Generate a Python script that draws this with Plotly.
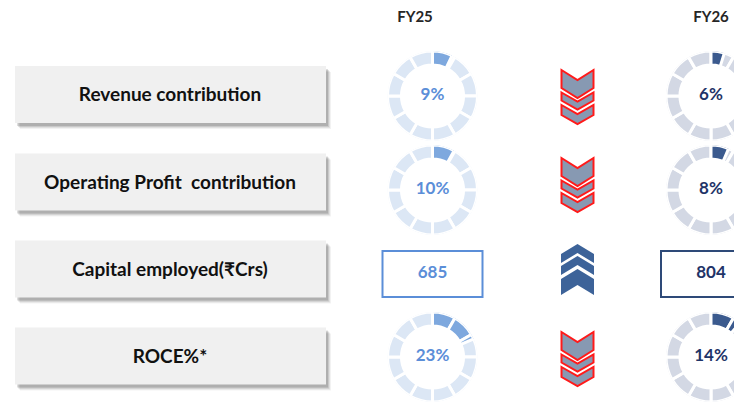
import plotly.graph_objects as go

# page size and the 8px default body margin of the html page
PAGE_W, PAGE_H = 742, 403
OFF = 8
EXTRA = 22                      # right-hand ring runs past the page edge
W, H = PAGE_W - OFF + EXTRA, PAGE_H - OFF

# ---------------- data ----------------
years = ["FY25", "FY26"]
row_labels = ["Revenue contribution", "Operating Profit  contribution",
              "Capital employed(₹Crs)", "ROCE%*"]
ring_rows = [0, 1, 3]                 # rows drawn as segmented rings
fy25_ring = [9, 10, 23]               # %
fy26_ring = [6, 8, 14]                # %
capital_employed = [685, 804]         # FY25, FY26 (₹ Crs)
trend = ["down", "down", "up", "down"]
N_SEG = 12
RING_FULL = 125                       # % represented by a full turn of the gauge

# ---------------- layout constants (page pixels) ----------------
col_x = [432.5, 711]
row_y = [96, 190, 274, 357]
label_y = [94.5, 182, 269, 356]
arrow_y = [97, 185, 274, 359]
R = 45
HOLE = 0.69
FONT = "Lato, 'DejaVu Sans', sans-serif"

fill_cols = ["#7ea8de", "#3b5a8e"]
bg_cols = ["#dce7f5", "#d3d8e4"]
txt_cols = ["#5b8ed8", "#1f3468"]

fig = go.Figure()

def dom_x(x0, x1):
    return [max(0, (x0 - OFF) / W), min(1, (x1 - OFF) / W)]

def dom_y(y0, y1):
    return [max(0, 1 - (y1 - OFF) / H), min(1, 1 - (y0 - OFF) / H)]

polars = {}
pidx = 0
for ci, vals in enumerate([fy25_ring, fy26_ring]):
    for k, row in enumerate(ring_rows):
        pidx += 1
        pid = "polar" if pidx == 1 else f"polar{pidx}"
        cx, cy = col_x[ci], row_y[row]
        seg = 360 / N_SEG
        thetas = [seg * i + seg / 2 for i in range(N_SEG)]
        fig.add_trace(go.Barpolar(
            theta=thetas, r=[1 - HOLE] * N_SEG, base=[HOLE] * N_SEG,
            width=[seg] * N_SEG, subplot=pid, hoverinfo="skip", showlegend=False,
            marker=dict(color=bg_cols[ci], line=dict(color="white", width=3))))
        end = vals[k] / RING_FULL * 360
        ft, fw = [], []
        for i in range(N_SEG):
            a0, a1 = seg * i, min(seg * (i + 1), end)
            if a1 > a0:
                ft.append((a0 + a1) / 2)
                fw.append(a1 - a0)
        fig.add_trace(go.Barpolar(
            theta=ft, r=[1 - HOLE] * len(ft), base=[HOLE] * len(ft), width=fw,
            subplot=pid, hoverinfo="skip", showlegend=False,
            marker=dict(color=fill_cols[ci], line=dict(color="white", width=3))))
        polars[pid] = dict(
            hole=0, bgcolor="rgba(0,0,0,0)", barmode="overlay",
            radialaxis=dict(visible=False, range=[0, 1], showgrid=False),
            angularaxis=dict(visible=False, rotation=90, direction="clockwise",
                             showgrid=False),
            domain=dict(x=dom_x(cx - R, cx + R), y=dom_y(cy - R, cy + R)))
        fig.add_trace(go.Scatter(
            x=[cx], y=[cy], mode="text", text=[f"{vals[k]}%"],
            textfont=dict(family=FONT, size=17, color=txt_cols[ci], weight="bold"),
            hoverinfo="skip", showlegend=False))

# capital employed values
for ci in range(2):
    fig.add_trace(go.Scatter(
        x=[col_x[ci]], y=[row_y[2]], mode="text", text=[f"{capital_employed[ci]}"],
        textfont=dict(family=FONT, size=17, color=txt_cols[ci], weight="bold"),
        hoverinfo="skip", showlegend=False))

# row labels
fig.add_trace(go.Scatter(
    x=[170] * len(row_labels), y=[y + 2 for y in label_y], mode="text", text=row_labels,
    textfont=dict(family=FONT, size=19, color="#111111", weight="bold"),
    hoverinfo="skip", showlegend=False))

# year headers
fig.add_trace(go.Scatter(
    x=[415, 711], y=[18, 18], mode="text", text=years,
    textfont=dict(family=FONT, size=15, color="#262626", weight="bold"),
    hoverinfo="skip", showlegend=False))

shapes = []
for y in label_y:
    for off, op in [(6, 0.05), (5, 0.07), (4, 0.10), (3, 0.13)]:
        shapes.append(dict(type="rect", x0=15 + off - 1, x1=326 + off - 1,
                           y0=y - 28.5 + off, y1=y + 28.5 + off,
                           fillcolor=f"rgba(0,0,0,{op})", line=dict(width=0),
                           layer="below"))
    shapes.append(dict(type="rect", x0=15, x1=326, y0=y - 28.5, y1=y + 28.5,
                       fillcolor="#f0f0f0", line=dict(width=0), layer="below"))

box_line = ["#5b8ed8", "#2e4a78"]
for ci in range(2):
    shapes.append(dict(type="rect", x0=col_x[ci] - 50, x1=col_x[ci] + 50,
                       y0=row_y[2] - 23, y1=row_y[2] + 23,
                       fillcolor="white", line=dict(color=box_line[ci], width=2),
                       layer="below"))

def chevron(xc, w, top, d, th, up):
    x0, x1 = xc - w / 2, xc + w / 2
    if up:
        pts = [(xc, top), (x1, top + d), (x1, top + d + th),
               (xc, top + th), (x0, top + d + th), (x0, top + d)]
    else:
        pts = [(x0, top), (xc, top + d), (x1, top), (x1, top + th),
               (xc, top + th + d), (x0, top + th)]
    return "M " + " L ".join(f"{x},{y}" for x, y in pts) + " Z"

arrow_x = 577.5
for row, t in enumerate(trend):
    cy = arrow_y[row]
    if t == "down":
        parts = [(-27, 10, 18, 32), (-4.5, 9, 8, 32), (8, 9, 10, 32)]
        for dy, d, th, w in parts:
            shapes.append(dict(type="path", path=chevron(arrow_x, w, cy + dy, d, th, False),
                               fillcolor="#8799b2", line=dict(color="#ff1a1a", width=2)))
    else:
        parts = [(-30, 10, 9), (-18, 10, 9), (-5, 10, 16)]
        for dy, d, th in parts:
            shapes.append(dict(type="path", path=chevron(arrow_x, 33, cy + dy, d, th, True),
                               fillcolor="#3d6399", line=dict(width=0)))

fig.update_layout(
    width=W, height=H, margin=dict(l=0, r=0, t=0, b=0),
    paper_bgcolor="white", plot_bgcolor="white",
    xaxis=dict(range=[OFF, OFF + W], visible=False, fixedrange=True),
    yaxis=dict(range=[PAGE_H, OFF], visible=False, fixedrange=True),
    shapes=shapes, showlegend=False, **polars)

fig.write_html("out.html")
